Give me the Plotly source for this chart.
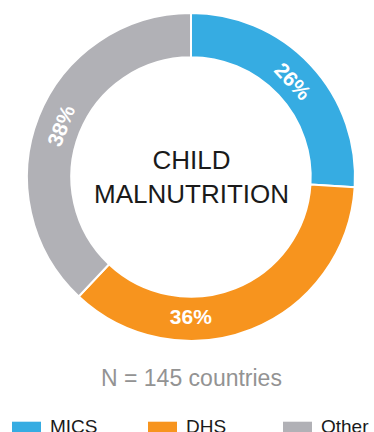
import plotly.graph_objects as go

categories = ["MICS", "DHS", "Other"]
values = [26, 36, 38]
colors = ["#36ACE2", "#F7941E", "#B1B1B6"]
center_title = ["CHILD", "MALNUTRITION"]
note = "N = 145 countries"

W, H = 374, 432
cx, cy, R = 191, 177, 164  # donut centre / radius in pixels (layout)

fig = go.Figure()
fig.add_trace(go.Pie(
    labels=categories,
    values=values,
    marker=dict(colors=colors, line=dict(color="white", width=2)),
    hole=0.73,
    sort=False,
    direction="clockwise",
    rotation=0,
    texttemplate="%{value}%",
    textposition="inside",
    insidetextorientation="tangential",
    textfont=dict(family="Liberation Sans", size=21, color="white", weight="bold"),
    showlegend=False,
    hoverinfo="label+value",
    domain=dict(x=[(cx - R) / W, (cx + R) / W], y=[(H - cy - R) / H, (H - cy + R) / H]),
))

annotations = [
    dict(text="<br>".join(center_title), x=cx / W, y=(H - cy) / H, xref="paper", yref="paper",
         showarrow=False, xanchor="center", yanchor="middle",
         font=dict(family="Liberation Sans", size=26, color="#1a1a1a")),
    dict(text=note, x=cx / W, y=(H - 378) / H, xref="paper", yref="paper",
         showarrow=False, xanchor="center", yanchor="middle",
         font=dict(family="Liberation Sans", size=23, color="#939393")),
]

shapes = []
leg_x = [12, 148, 283]
sq = 29
leg_top = 421.7
for i, (cat, col) in enumerate(zip(categories, colors)):
    x0 = leg_x[i]
    shapes.append(dict(type="rect", xref="paper", yref="paper",
                       x0=x0 / W, x1=(x0 + sq) / W, y0=(H - leg_top - sq) / H, y1=(H - leg_top) / H,
                       fillcolor=col, line=dict(width=0)))
    annotations.append(dict(text=cat, x=(x0 + sq + 7) / W, y=(H - 414.0) / H, xref="paper", yref="paper",
                            showarrow=False, xanchor="left", yanchor="top",
                            font=dict(family="Liberation Sans", size=19, color="#1a1a1a")))

fig.update_layout(
    width=W, height=H,
    margin=dict(l=0, r=0, t=0, b=0),
    paper_bgcolor="white", plot_bgcolor="white",
    annotations=annotations, shapes=shapes,
)
fig.write_html("out.html")
